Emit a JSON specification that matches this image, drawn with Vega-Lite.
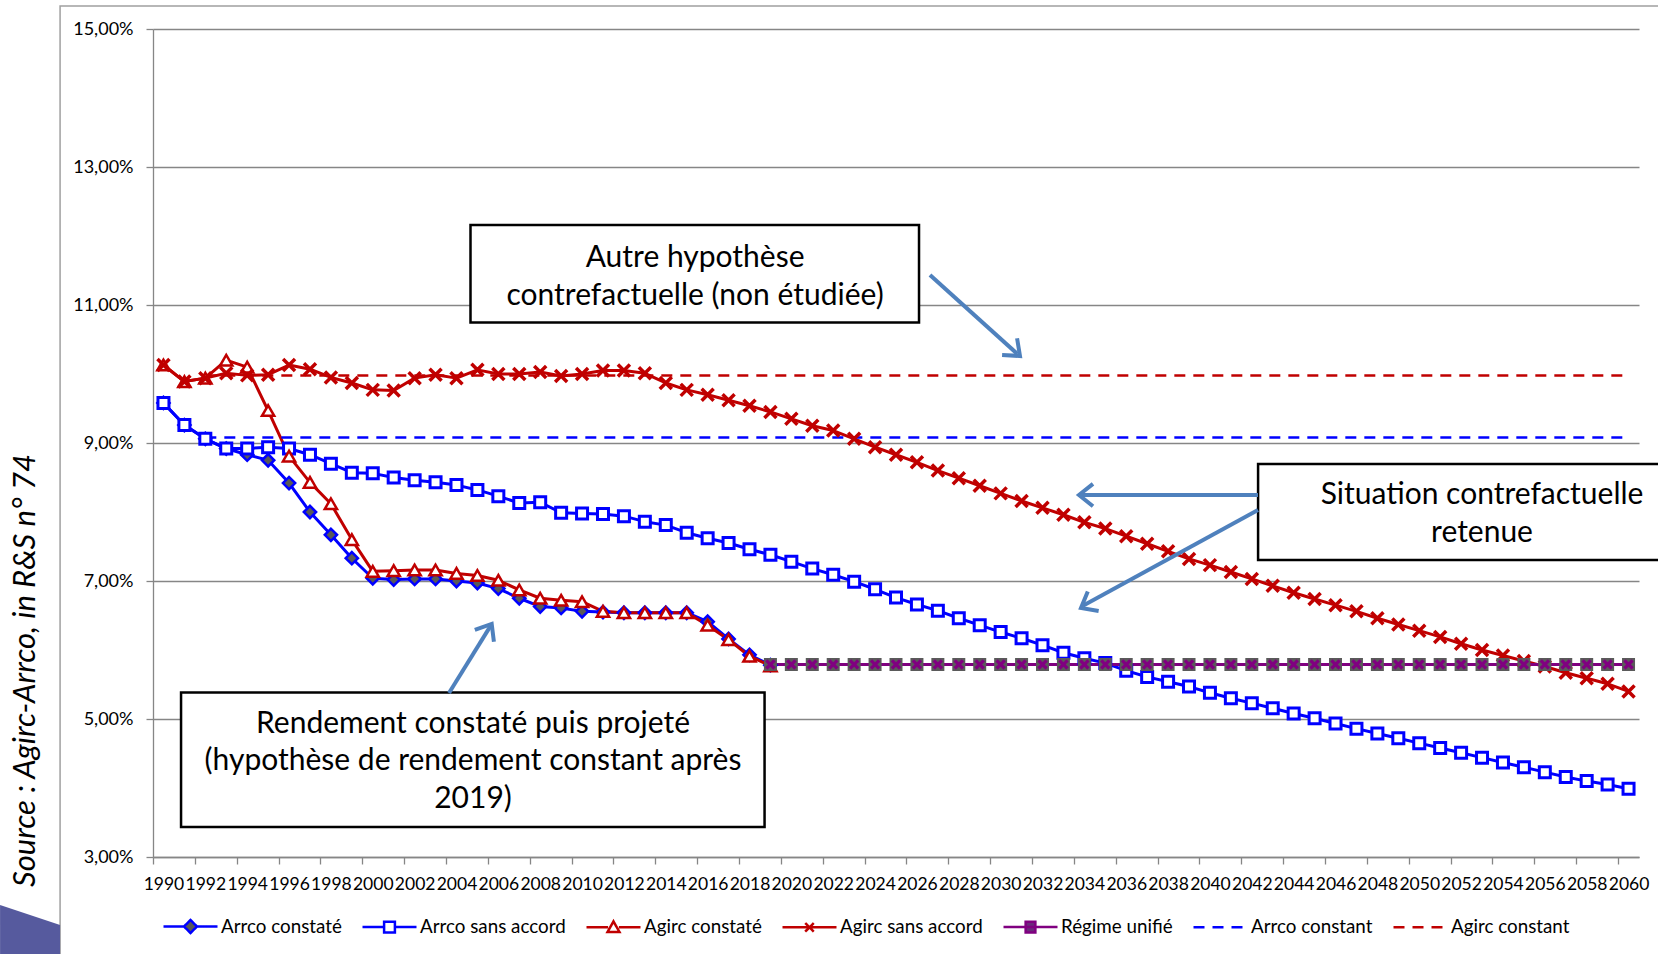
{
  "$schema": "https://vega.github.io/schema/vega-lite/v6.json",
  "width": 1486,
  "height": 828,
  "autosize": {"type": "none"},
  "padding": {"left": 153, "top": 29, "right": 19, "bottom": 97},
  "background": "white",
  "config": {"view": {"stroke": null}, "font": "Lato"},
  "datasets": {
    "series": [
      {"serie": "Arrco constaté", "annee": 1990, "taux": 9.58},
      {"serie": "Arrco constaté", "annee": 1991, "taux": 9.26},
      {"serie": "Arrco constaté", "annee": 1992, "taux": 9.06},
      {"serie": "Arrco constaté", "annee": 1993, "taux": 8.92},
      {"serie": "Arrco constaté", "annee": 1994, "taux": 8.83},
      {"serie": "Arrco constaté", "annee": 1995, "taux": 8.75},
      {"serie": "Arrco constaté", "annee": 1996, "taux": 8.42},
      {"serie": "Arrco constaté", "annee": 1997, "taux": 8.00},
      {"serie": "Arrco constaté", "annee": 1998, "taux": 7.67},
      {"serie": "Arrco constaté", "annee": 1999, "taux": 7.33},
      {"serie": "Arrco constaté", "annee": 2000, "taux": 7.04},
      {"serie": "Arrco constaté", "annee": 2001, "taux": 7.02},
      {"serie": "Arrco constaté", "annee": 2002, "taux": 7.03},
      {"serie": "Arrco constaté", "annee": 2003, "taux": 7.03},
      {"serie": "Arrco constaté", "annee": 2004, "taux": 7.00},
      {"serie": "Arrco constaté", "annee": 2005, "taux": 6.97},
      {"serie": "Arrco constaté", "annee": 2006, "taux": 6.89},
      {"serie": "Arrco constaté", "annee": 2007, "taux": 6.75},
      {"serie": "Arrco constaté", "annee": 2008, "taux": 6.63},
      {"serie": "Arrco constaté", "annee": 2009, "taux": 6.61},
      {"serie": "Arrco constaté", "annee": 2010, "taux": 6.56},
      {"serie": "Arrco constaté", "annee": 2011, "taux": 6.55},
      {"serie": "Arrco constaté", "annee": 2012, "taux": 6.54},
      {"serie": "Arrco constaté", "annee": 2013, "taux": 6.54},
      {"serie": "Arrco constaté", "annee": 2014, "taux": 6.54},
      {"serie": "Arrco constaté", "annee": 2015, "taux": 6.54},
      {"serie": "Arrco constaté", "annee": 2016, "taux": 6.41},
      {"serie": "Arrco constaté", "annee": 2017, "taux": 6.16},
      {"serie": "Arrco constaté", "annee": 2018, "taux": 5.93},
      {"serie": "Arrco constaté", "annee": 2019, "taux": 5.78},
      {"serie": "Arrco sans accord", "annee": 1990, "taux": 9.58},
      {"serie": "Arrco sans accord", "annee": 1991, "taux": 9.26},
      {"serie": "Arrco sans accord", "annee": 1992, "taux": 9.06},
      {"serie": "Arrco sans accord", "annee": 1993, "taux": 8.92},
      {"serie": "Arrco sans accord", "annee": 1994, "taux": 8.92},
      {"serie": "Arrco sans accord", "annee": 1995, "taux": 8.94},
      {"serie": "Arrco sans accord", "annee": 1996, "taux": 8.92},
      {"serie": "Arrco sans accord", "annee": 1997, "taux": 8.83},
      {"serie": "Arrco sans accord", "annee": 1998, "taux": 8.70},
      {"serie": "Arrco sans accord", "annee": 1999, "taux": 8.57},
      {"serie": "Arrco sans accord", "annee": 2000, "taux": 8.56},
      {"serie": "Arrco sans accord", "annee": 2001, "taux": 8.50},
      {"serie": "Arrco sans accord", "annee": 2002, "taux": 8.46},
      {"serie": "Arrco sans accord", "annee": 2003, "taux": 8.43},
      {"serie": "Arrco sans accord", "annee": 2004, "taux": 8.39},
      {"serie": "Arrco sans accord", "annee": 2005, "taux": 8.32},
      {"serie": "Arrco sans accord", "annee": 2006, "taux": 8.23},
      {"serie": "Arrco sans accord", "annee": 2007, "taux": 8.13},
      {"serie": "Arrco sans accord", "annee": 2008, "taux": 8.14},
      {"serie": "Arrco sans accord", "annee": 2009, "taux": 7.99},
      {"serie": "Arrco sans accord", "annee": 2010, "taux": 7.98},
      {"serie": "Arrco sans accord", "annee": 2011, "taux": 7.97},
      {"serie": "Arrco sans accord", "annee": 2012, "taux": 7.94},
      {"serie": "Arrco sans accord", "annee": 2013, "taux": 7.86},
      {"serie": "Arrco sans accord", "annee": 2014, "taux": 7.81},
      {"serie": "Arrco sans accord", "annee": 2015, "taux": 7.70},
      {"serie": "Arrco sans accord", "annee": 2016, "taux": 7.62},
      {"serie": "Arrco sans accord", "annee": 2017, "taux": 7.55},
      {"serie": "Arrco sans accord", "annee": 2018, "taux": 7.46},
      {"serie": "Arrco sans accord", "annee": 2019, "taux": 7.38},
      {"serie": "Arrco sans accord", "annee": 2020, "taux": 7.28},
      {"serie": "Arrco sans accord", "annee": 2021, "taux": 7.18},
      {"serie": "Arrco sans accord", "annee": 2022, "taux": 7.09},
      {"serie": "Arrco sans accord", "annee": 2023, "taux": 6.99},
      {"serie": "Arrco sans accord", "annee": 2024, "taux": 6.88},
      {"serie": "Arrco sans accord", "annee": 2025, "taux": 6.76},
      {"serie": "Arrco sans accord", "annee": 2026, "taux": 6.66},
      {"serie": "Arrco sans accord", "annee": 2027, "taux": 6.57},
      {"serie": "Arrco sans accord", "annee": 2028, "taux": 6.46},
      {"serie": "Arrco sans accord", "annee": 2029, "taux": 6.36},
      {"serie": "Arrco sans accord", "annee": 2030, "taux": 6.26},
      {"serie": "Arrco sans accord", "annee": 2031, "taux": 6.17},
      {"serie": "Arrco sans accord", "annee": 2032, "taux": 6.07},
      {"serie": "Arrco sans accord", "annee": 2033, "taux": 5.96},
      {"serie": "Arrco sans accord", "annee": 2034, "taux": 5.88},
      {"serie": "Arrco sans accord", "annee": 2035, "taux": 5.81},
      {"serie": "Arrco sans accord", "annee": 2036, "taux": 5.70},
      {"serie": "Arrco sans accord", "annee": 2037, "taux": 5.61},
      {"serie": "Arrco sans accord", "annee": 2038, "taux": 5.54},
      {"serie": "Arrco sans accord", "annee": 2039, "taux": 5.47},
      {"serie": "Arrco sans accord", "annee": 2040, "taux": 5.38},
      {"serie": "Arrco sans accord", "annee": 2041, "taux": 5.30},
      {"serie": "Arrco sans accord", "annee": 2042, "taux": 5.23},
      {"serie": "Arrco sans accord", "annee": 2043, "taux": 5.155},
      {"serie": "Arrco sans accord", "annee": 2044, "taux": 5.08},
      {"serie": "Arrco sans accord", "annee": 2045, "taux": 5.01},
      {"serie": "Arrco sans accord", "annee": 2046, "taux": 4.935},
      {"serie": "Arrco sans accord", "annee": 2047, "taux": 4.86},
      {"serie": "Arrco sans accord", "annee": 2048, "taux": 4.79},
      {"serie": "Arrco sans accord", "annee": 2049, "taux": 4.72},
      {"serie": "Arrco sans accord", "annee": 2050, "taux": 4.65},
      {"serie": "Arrco sans accord", "annee": 2051, "taux": 4.58},
      {"serie": "Arrco sans accord", "annee": 2052, "taux": 4.51},
      {"serie": "Arrco sans accord", "annee": 2053, "taux": 4.44},
      {"serie": "Arrco sans accord", "annee": 2054, "taux": 4.37},
      {"serie": "Arrco sans accord", "annee": 2055, "taux": 4.30},
      {"serie": "Arrco sans accord", "annee": 2056, "taux": 4.23},
      {"serie": "Arrco sans accord", "annee": 2057, "taux": 4.16},
      {"serie": "Arrco sans accord", "annee": 2058, "taux": 4.10},
      {"serie": "Arrco sans accord", "annee": 2059, "taux": 4.05},
      {"serie": "Arrco sans accord", "annee": 2060, "taux": 3.99},
      {"serie": "Agirc constaté", "annee": 1990, "taux": 10.13},
      {"serie": "Agirc constaté", "annee": 1991, "taux": 9.89},
      {"serie": "Agirc constaté", "annee": 1992, "taux": 9.94},
      {"serie": "Agirc constaté", "annee": 1993, "taux": 10.20},
      {"serie": "Agirc constaté", "annee": 1994, "taux": 10.10},
      {"serie": "Agirc constaté", "annee": 1995, "taux": 9.47},
      {"serie": "Agirc constaté", "annee": 1996, "taux": 8.81},
      {"serie": "Agirc constaté", "annee": 1997, "taux": 8.43},
      {"serie": "Agirc constaté", "annee": 1998, "taux": 8.12},
      {"serie": "Agirc constaté", "annee": 1999, "taux": 7.60},
      {"serie": "Agirc constaté", "annee": 2000, "taux": 7.14},
      {"serie": "Agirc constaté", "annee": 2001, "taux": 7.15},
      {"serie": "Agirc constaté", "annee": 2002, "taux": 7.16},
      {"serie": "Agirc constaté", "annee": 2003, "taux": 7.16},
      {"serie": "Agirc constaté", "annee": 2004, "taux": 7.11},
      {"serie": "Agirc constaté", "annee": 2005, "taux": 7.08},
      {"serie": "Agirc constaté", "annee": 2006, "taux": 7.01},
      {"serie": "Agirc constaté", "annee": 2007, "taux": 6.87},
      {"serie": "Agirc constaté", "annee": 2008, "taux": 6.75},
      {"serie": "Agirc constaté", "annee": 2009, "taux": 6.72},
      {"serie": "Agirc constaté", "annee": 2010, "taux": 6.70},
      {"serie": "Agirc constaté", "annee": 2011, "taux": 6.56},
      {"serie": "Agirc constaté", "annee": 2012, "taux": 6.54},
      {"serie": "Agirc constaté", "annee": 2013, "taux": 6.54},
      {"serie": "Agirc constaté", "annee": 2014, "taux": 6.54},
      {"serie": "Agirc constaté", "annee": 2015, "taux": 6.54},
      {"serie": "Agirc constaté", "annee": 2016, "taux": 6.36},
      {"serie": "Agirc constaté", "annee": 2017, "taux": 6.15},
      {"serie": "Agirc constaté", "annee": 2018, "taux": 5.91},
      {"serie": "Agirc constaté", "annee": 2019, "taux": 5.77},
      {"serie": "Agirc sans accord", "annee": 1990, "taux": 10.13},
      {"serie": "Agirc sans accord", "annee": 1991, "taux": 9.89},
      {"serie": "Agirc sans accord", "annee": 1992, "taux": 9.94},
      {"serie": "Agirc sans accord", "annee": 1993, "taux": 10.01},
      {"serie": "Agirc sans accord", "annee": 1994, "taux": 9.98},
      {"serie": "Agirc sans accord", "annee": 1995, "taux": 9.99},
      {"serie": "Agirc sans accord", "annee": 1996, "taux": 10.13},
      {"serie": "Agirc sans accord", "annee": 1997, "taux": 10.07},
      {"serie": "Agirc sans accord", "annee": 1998, "taux": 9.95},
      {"serie": "Agirc sans accord", "annee": 1999, "taux": 9.87},
      {"serie": "Agirc sans accord", "annee": 2000, "taux": 9.77},
      {"serie": "Agirc sans accord", "annee": 2001, "taux": 9.76},
      {"serie": "Agirc sans accord", "annee": 2002, "taux": 9.94},
      {"serie": "Agirc sans accord", "annee": 2003, "taux": 9.99},
      {"serie": "Agirc sans accord", "annee": 2004, "taux": 9.94},
      {"serie": "Agirc sans accord", "annee": 2005, "taux": 10.06},
      {"serie": "Agirc sans accord", "annee": 2006, "taux": 10.00},
      {"serie": "Agirc sans accord", "annee": 2007, "taux": 10.00},
      {"serie": "Agirc sans accord", "annee": 2008, "taux": 10.03},
      {"serie": "Agirc sans accord", "annee": 2009, "taux": 9.97},
      {"serie": "Agirc sans accord", "annee": 2010, "taux": 10.00},
      {"serie": "Agirc sans accord", "annee": 2011, "taux": 10.05},
      {"serie": "Agirc sans accord", "annee": 2012, "taux": 10.05},
      {"serie": "Agirc sans accord", "annee": 2013, "taux": 10.01},
      {"serie": "Agirc sans accord", "annee": 2014, "taux": 9.87},
      {"serie": "Agirc sans accord", "annee": 2015, "taux": 9.77},
      {"serie": "Agirc sans accord", "annee": 2016, "taux": 9.70},
      {"serie": "Agirc sans accord", "annee": 2017, "taux": 9.62},
      {"serie": "Agirc sans accord", "annee": 2018, "taux": 9.54},
      {"serie": "Agirc sans accord", "annee": 2019, "taux": 9.45},
      {"serie": "Agirc sans accord", "annee": 2020, "taux": 9.35},
      {"serie": "Agirc sans accord", "annee": 2021, "taux": 9.25},
      {"serie": "Agirc sans accord", "annee": 2022, "taux": 9.18},
      {"serie": "Agirc sans accord", "annee": 2023, "taux": 9.06},
      {"serie": "Agirc sans accord", "annee": 2024, "taux": 8.94},
      {"serie": "Agirc sans accord", "annee": 2025, "taux": 8.83},
      {"serie": "Agirc sans accord", "annee": 2026, "taux": 8.72},
      {"serie": "Agirc sans accord", "annee": 2027, "taux": 8.60},
      {"serie": "Agirc sans accord", "annee": 2028, "taux": 8.49},
      {"serie": "Agirc sans accord", "annee": 2029, "taux": 8.38},
      {"serie": "Agirc sans accord", "annee": 2030, "taux": 8.27},
      {"serie": "Agirc sans accord", "annee": 2031, "taux": 8.16},
      {"serie": "Agirc sans accord", "annee": 2032, "taux": 8.06},
      {"serie": "Agirc sans accord", "annee": 2033, "taux": 7.96},
      {"serie": "Agirc sans accord", "annee": 2034, "taux": 7.85},
      {"serie": "Agirc sans accord", "annee": 2035, "taux": 7.76},
      {"serie": "Agirc sans accord", "annee": 2036, "taux": 7.65},
      {"serie": "Agirc sans accord", "annee": 2037, "taux": 7.54},
      {"serie": "Agirc sans accord", "annee": 2038, "taux": 7.43},
      {"serie": "Agirc sans accord", "annee": 2039, "taux": 7.32},
      {"serie": "Agirc sans accord", "annee": 2040, "taux": 7.23},
      {"serie": "Agirc sans accord", "annee": 2041, "taux": 7.13},
      {"serie": "Agirc sans accord", "annee": 2042, "taux": 7.03},
      {"serie": "Agirc sans accord", "annee": 2043, "taux": 6.93},
      {"serie": "Agirc sans accord", "annee": 2044, "taux": 6.83},
      {"serie": "Agirc sans accord", "annee": 2045, "taux": 6.74},
      {"serie": "Agirc sans accord", "annee": 2046, "taux": 6.65},
      {"serie": "Agirc sans accord", "annee": 2047, "taux": 6.56},
      {"serie": "Agirc sans accord", "annee": 2048, "taux": 6.46},
      {"serie": "Agirc sans accord", "annee": 2049, "taux": 6.37},
      {"serie": "Agirc sans accord", "annee": 2050, "taux": 6.28},
      {"serie": "Agirc sans accord", "annee": 2051, "taux": 6.19},
      {"serie": "Agirc sans accord", "annee": 2052, "taux": 6.09},
      {"serie": "Agirc sans accord", "annee": 2053, "taux": 6.00},
      {"serie": "Agirc sans accord", "annee": 2054, "taux": 5.92},
      {"serie": "Agirc sans accord", "annee": 2055, "taux": 5.84},
      {"serie": "Agirc sans accord", "annee": 2056, "taux": 5.76},
      {"serie": "Agirc sans accord", "annee": 2057, "taux": 5.67},
      {"serie": "Agirc sans accord", "annee": 2058, "taux": 5.59},
      {"serie": "Agirc sans accord", "annee": 2059, "taux": 5.51},
      {"serie": "Agirc sans accord", "annee": 2060, "taux": 5.40},
      {"serie": "Régime unifié", "annee": 2019, "taux": 5.79},
      {"serie": "Régime unifié", "annee": 2020, "taux": 5.79},
      {"serie": "Régime unifié", "annee": 2021, "taux": 5.79},
      {"serie": "Régime unifié", "annee": 2022, "taux": 5.79},
      {"serie": "Régime unifié", "annee": 2023, "taux": 5.79},
      {"serie": "Régime unifié", "annee": 2024, "taux": 5.79},
      {"serie": "Régime unifié", "annee": 2025, "taux": 5.79},
      {"serie": "Régime unifié", "annee": 2026, "taux": 5.79},
      {"serie": "Régime unifié", "annee": 2027, "taux": 5.79},
      {"serie": "Régime unifié", "annee": 2028, "taux": 5.79},
      {"serie": "Régime unifié", "annee": 2029, "taux": 5.79},
      {"serie": "Régime unifié", "annee": 2030, "taux": 5.79},
      {"serie": "Régime unifié", "annee": 2031, "taux": 5.79},
      {"serie": "Régime unifié", "annee": 2032, "taux": 5.79},
      {"serie": "Régime unifié", "annee": 2033, "taux": 5.79},
      {"serie": "Régime unifié", "annee": 2034, "taux": 5.79},
      {"serie": "Régime unifié", "annee": 2035, "taux": 5.79},
      {"serie": "Régime unifié", "annee": 2036, "taux": 5.79},
      {"serie": "Régime unifié", "annee": 2037, "taux": 5.79},
      {"serie": "Régime unifié", "annee": 2038, "taux": 5.79},
      {"serie": "Régime unifié", "annee": 2039, "taux": 5.79},
      {"serie": "Régime unifié", "annee": 2040, "taux": 5.79},
      {"serie": "Régime unifié", "annee": 2041, "taux": 5.79},
      {"serie": "Régime unifié", "annee": 2042, "taux": 5.79},
      {"serie": "Régime unifié", "annee": 2043, "taux": 5.79},
      {"serie": "Régime unifié", "annee": 2044, "taux": 5.79},
      {"serie": "Régime unifié", "annee": 2045, "taux": 5.79},
      {"serie": "Régime unifié", "annee": 2046, "taux": 5.79},
      {"serie": "Régime unifié", "annee": 2047, "taux": 5.79},
      {"serie": "Régime unifié", "annee": 2048, "taux": 5.79},
      {"serie": "Régime unifié", "annee": 2049, "taux": 5.79},
      {"serie": "Régime unifié", "annee": 2050, "taux": 5.79},
      {"serie": "Régime unifié", "annee": 2051, "taux": 5.79},
      {"serie": "Régime unifié", "annee": 2052, "taux": 5.79},
      {"serie": "Régime unifié", "annee": 2053, "taux": 5.79},
      {"serie": "Régime unifié", "annee": 2054, "taux": 5.79},
      {"serie": "Régime unifié", "annee": 2055, "taux": 5.79},
      {"serie": "Régime unifié", "annee": 2056, "taux": 5.79},
      {"serie": "Régime unifié", "annee": 2057, "taux": 5.79},
      {"serie": "Régime unifié", "annee": 2058, "taux": 5.79},
      {"serie": "Régime unifié", "annee": 2059, "taux": 5.79},
      {"serie": "Régime unifié", "annee": 2060, "taux": 5.79},
      {"serie": "Arrco constant", "annee": 1992, "taux": 9.08},
      {"serie": "Arrco constant", "annee": 2060, "taux": 9.08},
      {"serie": "Agirc constant", "annee": 1992, "taux": 9.98},
      {"serie": "Agirc constant", "annee": 2060, "taux": 9.98}
    ]
  },
  "layer": [
    {
      "data": {"name": "series"},
      "transform": [{"filter": {"field": "serie", "oneOf": ["Arrco constaté", "Arrco sans accord", "Agirc constaté", "Agirc sans accord", "Régime unifié"]}}],
      "mark": {"type": "line", "strokeWidth": 3, "strokeJoin": "round"},
      "encoding": {
        "x": {
          "field": "annee", "type": "quantitative",
          "scale": {"domain": [1989.5, 2060.5], "nice": false, "zero": false},
          "axis": {
            "title": null,
            "values": [1989.5,1990.5,1991.5,1992.5,1993.5,1994.5,1995.5,1996.5,1997.5,1998.5,1999.5,2000.5,2001.5,2002.5,2003.5,2004.5,2005.5,2006.5,2007.5,2008.5,2009.5,2010.5,2011.5,2012.5,2013.5,2014.5,2015.5,2016.5,2017.5,2018.5,2019.5,2020.5,2021.5,2022.5,2023.5,2024.5,2025.5,2026.5,2027.5,2028.5,2029.5,2030.5,2031.5,2032.5,2033.5,2034.5,2035.5,2036.5,2037.5,2038.5,2039.5,2040.5,2041.5,2042.5,2043.5,2044.5,2045.5,2046.5,2047.5,2048.5,2049.5,2050.5,2051.5,2052.5,2053.5,2054.5,2055.5,2056.5,2057.5,2058.5,2059.5,2060.5],
            "labelExpr": "(datum.value + 0.5) % 2 == 0 ? '' + (datum.value + 0.5) : ''",
            "labelOffset": 10.47,
            "labelOverlap": false,
            "labelFlush": false,
            "labelBound": false,
            "grid": false,
            "domainColor": "#868686", "domainWidth": 1.3,
            "tickColor": "#868686", "tickWidth": 1.3, "tickSize": 7,
            "labelFont": "Lato", "labelFontSize": 17.5, "labelColor": "#000000", "labelPadding": 11
          }
        },
        "y": {
          "field": "taux", "type": "quantitative",
          "scale": {"domain": [3, 15], "nice": false, "zero": false},
          "axis": {
            "values": [3, 5, 7, 9, 11, 13, 15],
            "labelExpr": "replace(format(datum.value, '.2f'), '.', ',') + '%'",
            "grid": true, "gridColor": "#868686", "gridWidth": 1.3,
            "domainColor": "#868686", "domainWidth": 1.3,
            "tickColor": "#868686", "tickWidth": 1.3, "tickSize": 7,
            "labelFont": "Lato", "labelFontSize": 18, "labelColor": "#000000", "labelPadding": 13,
            "labelFlush": false, "labelOverlap": false,
            "title": "Source : Agirc-Arrco, in R&S n° 74",
            "titleFont": "Lato", "titleFontSize": 31, "titleFontStyle": "italic", "titleFontWeight": "normal",
            "titleColor": "#000000", "titleX": -128, "titleY": 641, "titleAngle": 270,
            "titleAlign": "center", "titleBaseline": "middle"
          }
        },
        "color": {
          "field": "serie", "type": "nominal",
          "scale": {
            "domain": ["Arrco constaté", "Arrco sans accord", "Agirc constaté", "Agirc sans accord", "Régime unifié", "Arrco constant", "Agirc constant"],
            "range": ["#0000ff", "#0000ff", "#c00000", "#c00000", "#800080", "#0000ff", "#c00000"]
          },
          "legend": {
            "orient": "none", "legendX": 9, "legendY": 869, "direction": "horizontal",
            "title": null, "padding": 0, "symbolSize": 2916, "symbolStrokeWidth": 2.5,
            "labelFont": "Lato", "labelFontSize": 18.8, "labelColor": "#000000", "labelOffset": 2,
            "columnPadding": 15, "labelLimit": 400,
            "encode": {
              "symbols": {
                "update": {
                  "shape": {"signal": "datum.value == 'Arrco constaté' ? 'M-1,0L-0.24,0M0.24,0L1,0M0,-0.24L0.24,0L0,0.24L-0.24,0Z' : datum.value == 'Arrco sans accord' ? 'M-1,0L-0.2,0M0.2,0L1,0M-0.2,-0.2L0.2,-0.2L0.2,0.2L-0.2,0.2Z' : datum.value == 'Agirc constaté' ? 'M-1,0L-0.2,0M0.2,0L1,0M0,-0.22L0.22,0.17L-0.22,0.17Z' : datum.value == 'Agirc sans accord' ? 'M-1,0L1,0M-0.16,-0.16L0.16,0.16M-0.16,0.16L0.16,-0.16' : datum.value == 'Régime unifié' ? 'M-1,0L1,0M-0.18,-0.2L0.18,-0.2L0.18,0.2L-0.18,0.2Z' : 'M-1,0L1,0'"},
                  "fill": {"signal": "datum.value == 'Arrco constaté' ? '#595959' : (datum.value == 'Arrco sans accord' || datum.value == 'Agirc constaté') ? '#ffffff' : datum.value == 'Régime unifié' ? '#6b2a7b' : 'transparent'"},
                  "stroke": {"signal": "datum.value == 'Régime unifié' ? '#800080' : (indexof(['Agirc constaté', 'Agirc sans accord', 'Agirc constant'], datum.value) >= 0 ? '#c00000' : '#0000ff')"},
                  "strokeDash": {"signal": "indexof(['Arrco constant', 'Agirc constant'], datum.value) >= 0 ? [11, 8] : [1, 0]"},
                  "strokeWidth": {"value": 2.5},
                  "opacity": {"value": 1}
                }
              }
            }
          }
        }
      }
    },
    {
      "data": {"name": "series"},
      "transform": [{"filter": {"field": "serie", "oneOf": ["Arrco constant", "Agirc constant"]}}],
      "mark": {"type": "line", "strokeWidth": 2.5, "strokeDash": [11, 8]},
      "encoding": {
        "x": {"field": "annee", "type": "quantitative"},
        "y": {"field": "taux", "type": "quantitative"},
        "color": {"field": "serie", "type": "nominal"}
      }
    },
    {
      "data": {"name": "series"},
      "transform": [{"filter": {"field": "serie", "equal": "Arrco constaté"}}],
      "mark": {"type": "point", "shape": "diamond", "size": 150, "filled": true, "fill": "#595959", "stroke": "#0000ff", "strokeWidth": 2.5, "opacity": 1},
      "encoding": {
        "x": {"field": "annee", "type": "quantitative"},
        "y": {"field": "taux", "type": "quantitative"}
      }
    },
    {
      "data": {"name": "series"},
      "transform": [{"filter": {"field": "serie", "equal": "Arrco sans accord"}}],
      "mark": {"type": "point", "shape": "square", "size": 121, "filled": true, "fill": "#ffffff", "stroke": "#0000ff", "strokeWidth": 3, "opacity": 1},
      "encoding": {
        "x": {"field": "annee", "type": "quantitative"},
        "y": {"field": "taux", "type": "quantitative"}
      }
    },
    {
      "data": {"name": "series"},
      "transform": [{"filter": {"field": "serie", "equal": "Agirc constaté"}}],
      "mark": {"type": "point", "shape": "triangle-up", "size": 150, "filled": true, "fill": "#ffffff", "stroke": "#c00000", "strokeWidth": 2.5, "opacity": 1},
      "encoding": {
        "x": {"field": "annee", "type": "quantitative"},
        "y": {"field": "taux", "type": "quantitative"}
      }
    },
    {
      "data": {"name": "series"},
      "transform": [{"filter": {"field": "serie", "equal": "Agirc sans accord"}}],
      "mark": {"type": "point", "shape": "M-1,-1L1,1M-1,1L1,-1", "size": 144, "filled": false, "stroke": "#c00000", "strokeWidth": 3.5, "opacity": 1},
      "encoding": {
        "x": {"field": "annee", "type": "quantitative"},
        "y": {"field": "taux", "type": "quantitative"}
      }
    },
    {
      "data": {"name": "series"},
      "transform": [{"filter": {"field": "serie", "equal": "Régime unifié"}}],
      "mark": {"type": "point", "shape": "square", "size": 169, "filled": true, "fill": "#5a5a5a", "strokeWidth": 0, "opacity": 1},
      "encoding": {
        "x": {"field": "annee", "type": "quantitative"},
        "y": {"field": "taux", "type": "quantitative"}
      }
    },
    {
      "data": {"name": "series"},
      "transform": [{"filter": {"field": "serie", "equal": "Régime unifié"}}],
      "mark": {"type": "point", "shape": "M-1,-0.55L-0.55,-1L0,-0.45L0.55,-1L1,-0.55L0.45,0L1,0.55L0.55,1L0,0.45L-0.55,1L-1,0.55L-0.45,0Z", "size": 110, "filled": true, "fill": "#800080", "strokeWidth": 0, "opacity": 1},
      "encoding": {
        "x": {"field": "annee", "type": "quantitative"},
        "y": {"field": "taux", "type": "quantitative"}
      }
    },
    {
      "data": {"values": [{}]},
      "mark": {"type": "rect", "fill": "#ffffff", "stroke": "#000000", "strokeWidth": 2.5},
      "encoding": {
        "x": {"datum": 2004.67, "type": "quantitative"},
        "x2": {"datum": 2026.10},
        "y": {"datum": 12.159, "type": "quantitative"},
        "y2": {"datum": 10.746}
      }
    },
    {
      "data": {"values": [{}]},
      "mark": {"type": "rect", "fill": "#ffffff", "stroke": "#000000", "strokeWidth": 2.5},
      "encoding": {
        "x": {"datum": 2042.30, "type": "quantitative"},
        "x2": {"datum": 2064.5},
        "y": {"datum": 8.696, "type": "quantitative"},
        "y2": {"datum": 7.304}
      }
    },
    {
      "data": {"values": [{}]},
      "mark": {"type": "rect", "fill": "#ffffff", "stroke": "#000000", "strokeWidth": 2.5},
      "encoding": {
        "x": {"datum": 1990.84, "type": "quantitative"},
        "x2": {"datum": 2018.72},
        "y": {"datum": 5.383, "type": "quantitative"},
        "y2": {"datum": 3.435}
      }
    },
    {
      "data": {"values": [{}]},
      "mark": {"type": "text", "text": ["Autre hypothèse", "contrefactuelle (non étudiée)"], "font": "Lato", "fontSize": 30, "lineHeight": 38, "align": "center", "baseline": "middle", "color": "#000000"},
      "encoding": {
        "x": {"datum": 2015.40, "type": "quantitative"},
        "y": {"datum": 11.68, "type": "quantitative"}
      }
    },
    {
      "data": {"values": [{}]},
      "mark": {"type": "text", "text": ["Situation contrefactuelle", "retenue"], "font": "Lato", "fontSize": 30, "lineHeight": 38, "align": "center", "baseline": "middle", "color": "#000000"},
      "encoding": {
        "x": {"datum": 2053.0, "type": "quantitative"},
        "y": {"datum": 8.246, "type": "quantitative"}
      }
    },
    {
      "data": {"values": [{}]},
      "mark": {"type": "text", "text": ["Rendement constaté puis projeté", "(hypothèse de rendement constant après", "2019)"], "font": "Lato", "fontSize": 30, "lineHeight": 37.5, "align": "center", "baseline": "middle", "color": "#000000"},
      "encoding": {
        "x": {"datum": 2004.79, "type": "quantitative"},
        "y": {"datum": 4.928, "type": "quantitative"}
      }
    },
    {
      "data": {"values": [{}]},
      "mark": {"type": "rule", "stroke": "#4f81bd", "strokeWidth": 4},
      "encoding": {
        "x": {"datum": 2026.624, "type": "quantitative"},
        "y": {"datum": 11.435, "type": "quantitative"},
        "x2": {"datum": 2030.80},
        "y2": {"datum": 10.29}
      }
    },
    {
      "data": {"values": [{}]},
      "mark": {"type": "point", "shape": "M-1,-0.8L0,0L-1,0.8", "size": 784, "angle": 42, "filled": false, "stroke": "#4f81bd", "strokeWidth": 4, "opacity": 1},
      "encoding": {
        "x": {"datum": 2030.924, "type": "quantitative"},
        "y": {"datum": 10.261, "type": "quantitative"}
      }
    },
    {
      "data": {"values": [{}]},
      "mark": {"type": "rule", "stroke": "#4f81bd", "strokeWidth": 4},
      "encoding": {
        "x": {"datum": 2042.295, "type": "quantitative"},
        "y": {"datum": 8.246, "type": "quantitative"},
        "x2": {"datum": 2033.85},
        "y2": {"datum": 8.246}
      }
    },
    {
      "data": {"values": [{}]},
      "mark": {"type": "point", "shape": "M-1,-0.8L0,0L-1,0.8", "size": 784, "angle": 180, "filled": false, "stroke": "#4f81bd", "strokeWidth": 4, "opacity": 1},
      "encoding": {
        "x": {"datum": 2033.743, "type": "quantitative"},
        "y": {"datum": 8.246, "type": "quantitative"}
      }
    },
    {
      "data": {"values": [{}]},
      "mark": {"type": "rule", "stroke": "#4f81bd", "strokeWidth": 4},
      "encoding": {
        "x": {"datum": 2042.295, "type": "quantitative"},
        "y": {"datum": 8.029, "type": "quantitative"},
        "x2": {"datum": 2033.93},
        "y2": {"datum": 6.64}
      }
    },
    {
      "data": {"values": [{}]},
      "mark": {"type": "point", "shape": "M-1,-0.8L0,0L-1,0.8", "size": 784, "angle": 151, "filled": false, "stroke": "#4f81bd", "strokeWidth": 4, "opacity": 1},
      "encoding": {
        "x": {"datum": 2033.838, "type": "quantitative"},
        "y": {"datum": 6.609, "type": "quantitative"}
      }
    },
    {
      "data": {"values": [{}]},
      "mark": {"type": "rule", "stroke": "#4f81bd", "strokeWidth": 4},
      "encoding": {
        "x": {"datum": 2003.642, "type": "quantitative"},
        "y": {"datum": 5.377, "type": "quantitative"},
        "x2": {"datum": 2005.63},
        "y2": {"datum": 6.35}
      }
    },
    {
      "data": {"values": [{}]},
      "mark": {"type": "point", "shape": "M-1,-0.8L0,0L-1,0.8", "size": 784, "angle": -58.4, "filled": false, "stroke": "#4f81bd", "strokeWidth": 4, "opacity": 1},
      "encoding": {
        "x": {"datum": 2005.683, "type": "quantitative"},
        "y": {"datum": 6.378, "type": "quantitative"}
      }
    },
    {
      "data": {"values": [{}]},
      "mark": {"type": "rect", "fillOpacity": 0, "stroke": "#a0a0a0", "strokeWidth": 1.5},
      "encoding": {
        "x": {"datum": 1985.06, "type": "quantitative"},
        "x2": {"datum": 2075},
        "y": {"datum": 15.333, "type": "quantitative"},
        "y2": {"datum": -3}
      }
    },
    {
      "data": {"values": [{}]},
      "mark": {"type": "point", "shape": "M-60,-20L0,0L0,40L-60,40Z", "size": 4, "filled": true, "fill": "#565a9e", "strokeWidth": 0, "opacity": 1},
      "encoding": {
        "x": {"datum": 1985.06, "type": "quantitative"},
        "y": {"datum": 2.0145, "type": "quantitative"}
      }
    }
  ]
}
